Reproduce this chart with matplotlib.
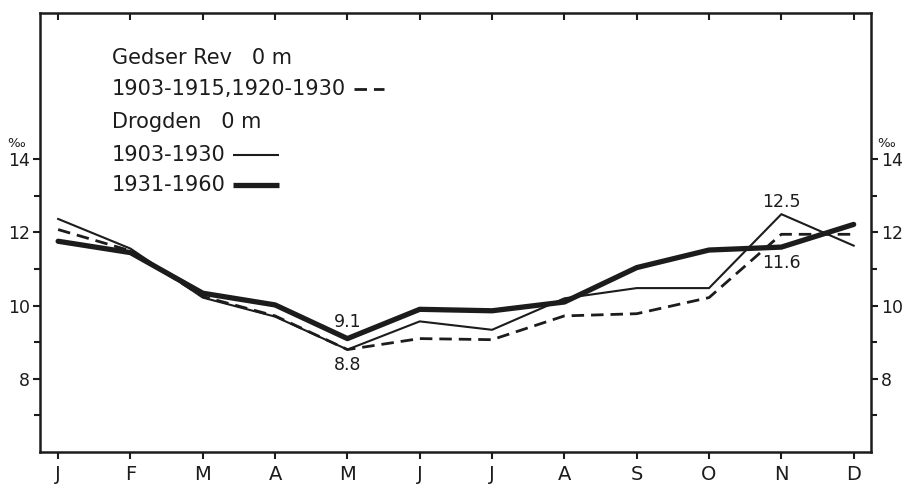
import matplotlib
matplotlib.use("Agg")
import matplotlib.pyplot as plt

months = ["J", "F", "M", "A", "M", "J", "J", "A", "S", "O", "N", "D"]

# Gedser Rev 0 m, 1903-1915 and 1920-1930
gedser = [12.08, 11.50, 10.25, 9.72, 8.80, 9.10, 9.07, 9.72, 9.78, 10.22, 11.95, 11.95]

# Drogden 0 m, 1903-1930
drogden_early = [12.37, 11.56, 10.22, 9.70, 8.80, 9.57, 9.34, 10.20, 10.48, 10.48, 12.50, 11.64]

# Drogden 0 m, 1931-1960
drogden_late = [11.76, 11.45, 10.34, 10.02, 9.10, 9.90, 9.86, 10.10, 11.04, 11.52, 11.60, 12.22]

y_ticks = [8, 10, 12, 14]
y_minor = [7, 9, 11, 13]

legend_rows = [
    "Gedser Rev   0 m",
    "1903-1915,1920-1930",
    "Drogden   0 m",
    "1903-1930",
    "1931-1960",
]

ink = "#1c1c1c"
dashed = (0, (4.5, 2.5))

plt.rcParams["font.family"] = ["DejaVu Sans"]

fig = plt.figure(figsize=(9.06, 4.97), dpi=100)
ax = fig.add_axes([0.0442, 0.0905, 0.9172, 0.8835])

x = list(range(len(months)))

ax.plot(x, gedser, color=ink, lw=2.0, linestyle=dashed,
        solid_joinstyle="round", dash_capstyle="butt")
ax.plot(x, drogden_early, color=ink, lw=1.5, solid_joinstyle="round")
ax.plot(x, drogden_late, color=ink, lw=3.8, solid_joinstyle="round",
        solid_capstyle="round")

# value labels at the extremes
label_kw = dict(ha="center", fontsize=12.5, color=ink)
ax.text(4, drogden_late[4] + 0.22, f"{drogden_late[4]:.1f}", va="bottom", **label_kw)
ax.text(4, drogden_early[4] - 0.18, f"{drogden_early[4]:.1f}", va="top", **label_kw)
ax.text(10, drogden_early[10] + 0.1, f"{drogden_early[10]:.1f}", va="bottom", **label_kw)
ax.text(10, drogden_late[10] - 0.18, f"{drogden_late[10]:.1f}", va="top", **label_kw)

ax.set_xlim(-0.25, 11.24)
ax.set_ylim(6, 18)

ax.set_xticks(x)
ax.set_xticklabels(months, fontsize=14, color=ink)
ax.set_yticks(y_ticks)
ax.set_yticks(y_minor, minor=True)
ax.set_yticklabels([str(v) for v in y_ticks], fontsize=12.5, color=ink)

ax.tick_params(axis="x", which="major", direction="out", length=5, width=1.5,
               color=ink, pad=4, top=True, labeltop=False)
ax.tick_params(axis="y", which="both", direction="out", width=1.5, color=ink,
               left=True, right=True, labelleft=True, labelright=True, pad=2)
ax.tick_params(axis="y", which="major", length=5)
ax.tick_params(axis="y", which="minor", length=4)

# top ticks point into the frame
for tick in ax.xaxis.get_major_ticks():
    tick.tick2line.set_marker(3)
    tick.tick2line.set_markersize(5)

for spine in ax.spines.values():
    spine.set_linewidth(1.8)
    spine.set_color(ink)

# per-mille unit above the 14 tick on both sides
ax.text(-0.018, 14.25, "‰", transform=ax.get_yaxis_transform(), ha="right",
        va="bottom", fontsize=9.5, color=ink)
ax.text(1.008, 14.25, "‰", transform=ax.get_yaxis_transform(), ha="left",
        va="bottom", fontsize=9.5, color=ink)

# key: text rows, each followed by a short sample of its line
row_y = [0.897, 0.827, 0.752, 0.677, 0.608]
samples = [None, (dashed, 2.0, 0.036), None, ("-", 1.5, 0.055), ("-", 3.8, 0.055)]
fig.canvas.draw()
renderer = fig.canvas.get_renderer()
inv = ax.transAxes.inverted()
for label, y, sample in zip(legend_rows, row_y, samples):
    t = ax.text(0.0866, y, label, transform=ax.transAxes, ha="left",
                va="center", fontsize=15, color=ink)
    if sample is None:
        continue
    style, lw, length = sample
    bb = t.get_window_extent(renderer)
    x_end = inv.transform((bb.x1, bb.y0))[0]
    x0 = x_end + 0.009
    ax.plot([x0, x0 + length], [y, y], transform=ax.transAxes, color=ink,
            lw=lw, linestyle=style, solid_capstyle="butt")

fig.savefig("out.png", dpi=100, facecolor="white")
